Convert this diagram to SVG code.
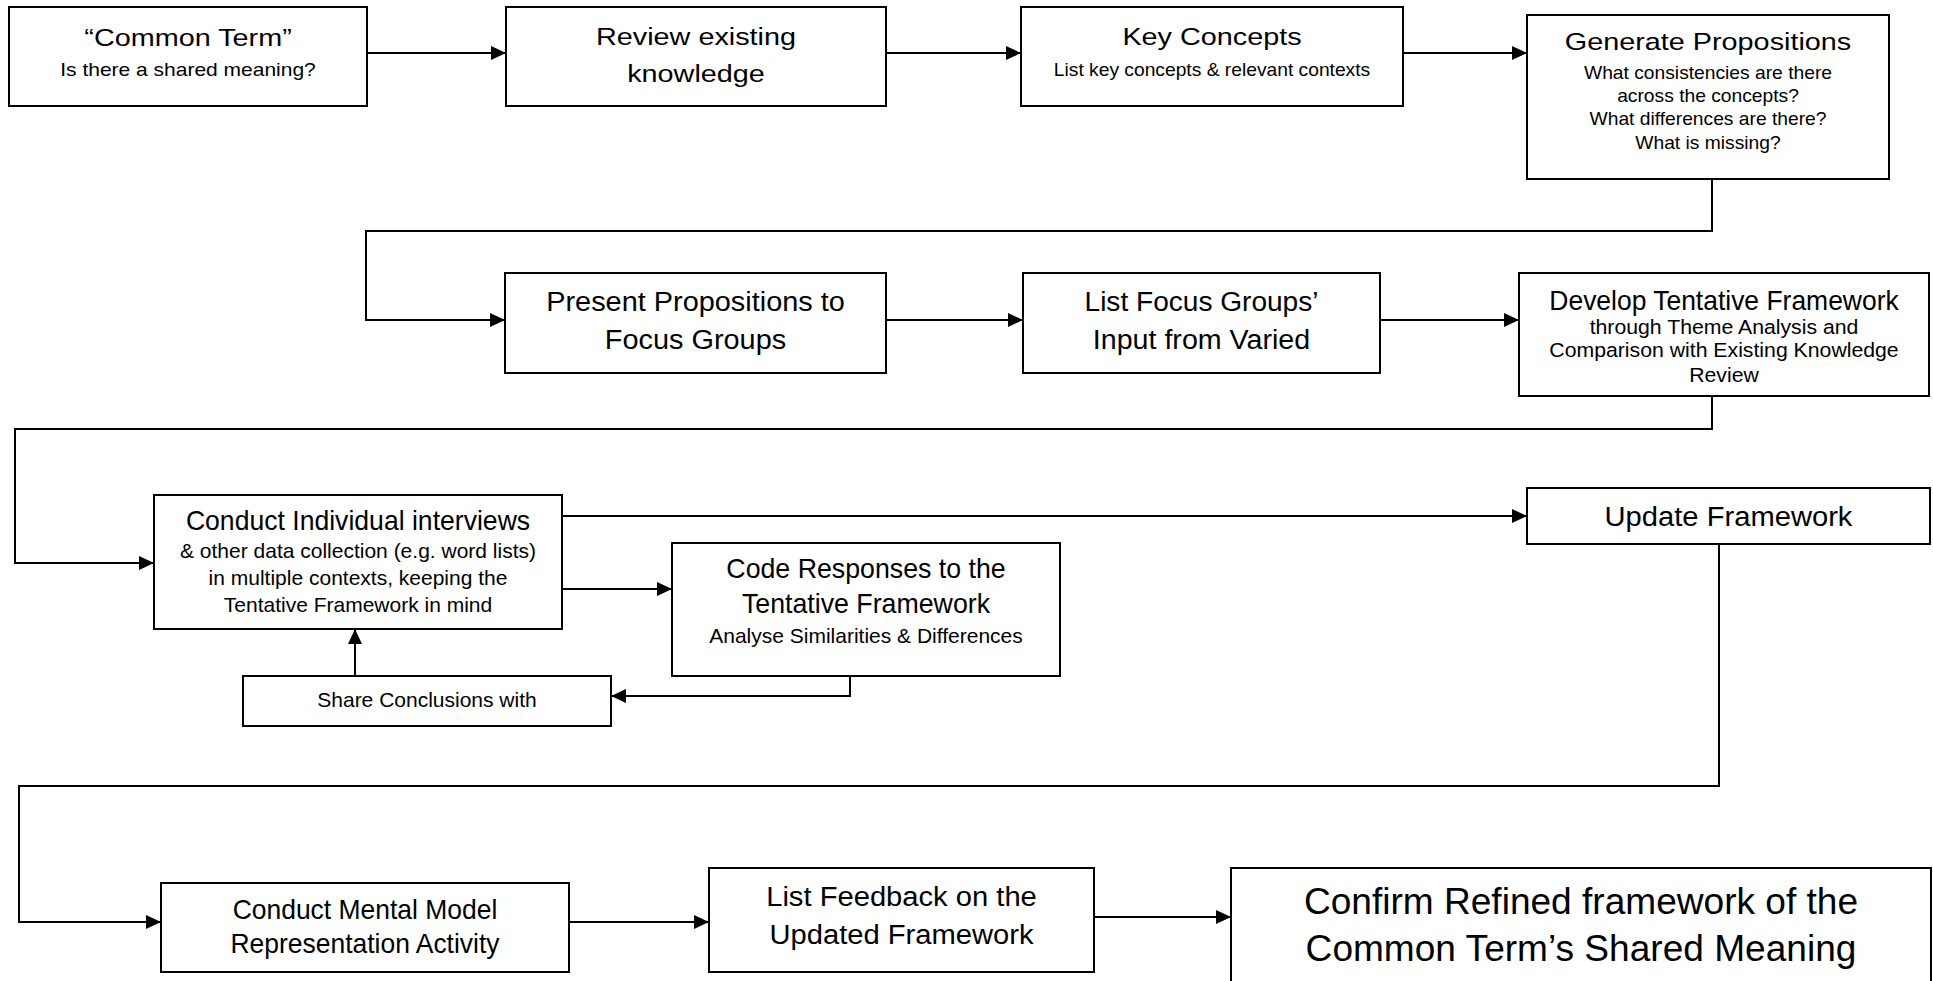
<svg xmlns="http://www.w3.org/2000/svg" width="1933" height="981" viewBox="0 0 1933 981">
  <defs>
    <marker id="arrow" markerUnits="userSpaceOnUse" markerWidth="16" markerHeight="14" refX="15" refY="7" orient="auto">
      <path d="M0,0 L15,7 L0,14 Z" fill="#000"/>
    </marker>
    <style>
      .box { fill: #fff; stroke: #000; stroke-width: 2; }
      .link { fill: none; stroke: #000; stroke-width: 2; }
      .arr { marker-end: url(#arrow); }
      text { font-family: "Liberation Sans", Arial, sans-serif; fill: #000; text-anchor: middle; }
      .h1 { font-size: 24px; }
      .s1 { font-size: 17.5px; }
      .h2 { font-size: 27px; }
      .s2 { font-size: 21px; }
      .s7 { font-size: 19.5px; }
      .big { font-size: 36px; }
    </style>
  </defs>

  <rect width="1933" height="981" fill="#fff"/>

  <!-- connectors -->
  <g id="connectors">
    <path class="link arr" d="M367,53 H506"/>
    <path class="link arr" d="M886,53 H1021"/>
    <path class="link arr" d="M1403,53 H1527"/>
    <path class="link arr" d="M1712,179 V231 H366 V320 H505"/>
    <path class="link arr" d="M886,320 H1023"/>
    <path class="link arr" d="M1380,320 H1519"/>
    <path class="link arr" d="M1712,396 V429 H15 V563 H154"/>
    <path class="link arr" d="M562,516 H1527"/>
    <path class="link arr" d="M562,589 H672"/>
    <path class="link arr" d="M850,676 V696 H611"/>
    <path class="link arr" d="M355,676 V629"/>
    <path class="link arr" d="M1719,544 V786 H19 V922 H161"/>
    <path class="link arr" d="M569,922 H709"/>
    <path class="link arr" d="M1094,917 H1231"/>
  </g>

  <!-- row 1 -->
  <g id="common-term">
    <rect class="box" x="9" y="7" width="358" height="99"/>
    <text class="h1" transform="translate(188 46) scale(1.2 1)">“Common Term”</text>
    <text class="s1" transform="translate(188 76) scale(1.2 1)">Is there a shared meaning?</text>
  </g>
  <g id="review-knowledge">
    <rect class="box" x="506" y="7" width="380" height="99"/>
    <text class="h1" transform="translate(696 45) scale(1.2 1)">Review existing</text>
    <text class="h1" transform="translate(696 82) scale(1.2 1)">knowledge</text>
  </g>
  <g id="key-concepts">
    <rect class="box" x="1021" y="7" width="382" height="99"/>
    <text class="h1" transform="translate(1212 45) scale(1.2 1)">Key Concepts</text>
    <text class="s1" transform="translate(1212 76) scale(1.1 1)">List key concepts &amp; relevant contexts</text>
  </g>
  <g id="generate-propositions">
    <rect class="box" x="1527" y="15" width="362" height="164"/>
    <text class="h1" transform="translate(1708 50) scale(1.2 1)">Generate Propositions</text>
    <text class="s1" transform="translate(1708 79) scale(1.1 1)">What consistencies are there</text>
    <text class="s1" transform="translate(1708 102) scale(1.1 1)">across the concepts?</text>
    <text class="s1" transform="translate(1708 125) scale(1.1 1)">What differences are there?</text>
    <text class="s1" transform="translate(1708 149) scale(1.1 1)">What is missing?</text>
  </g>

  <!-- row 2 -->
  <g id="present-propositions">
    <rect class="box" x="505" y="273" width="381" height="100"/>
    <text class="h2" transform="translate(695.5 311) scale(1.07 1)">Present Propositions to</text>
    <text class="h2" transform="translate(695.5 349) scale(1.07 1)">Focus Groups</text>
  </g>
  <g id="list-focus-groups">
    <rect class="box" x="1023" y="273" width="357" height="100"/>
    <text class="h2" transform="translate(1201.5 311) scale(1.04 1)">List Focus Groups’</text>
    <text class="h2" transform="translate(1201.5 349) scale(1.06 1)">Input from Varied</text>
  </g>
  <g id="develop-framework">
    <rect class="box" x="1519" y="273" width="410" height="123"/>
    <text class="h2" transform="translate(1724 310) scale(0.98 1)">Develop Tentative Framework</text>
    <text class="s7" transform="translate(1724 334) scale(1.09 1)">through Theme Analysis and</text>
    <text class="s7" transform="translate(1724 357) scale(1.09 1)">Comparison with Existing Knowledge</text>
    <text class="s7" transform="translate(1724 382) scale(1.09 1)">Review</text>
  </g>

  <!-- row 3 -->
  <g id="individual-interviews">
    <rect class="box" x="154" y="495" width="408" height="134"/>
    <text class="h2" transform="translate(358 530) scale(0.985 1)">Conduct Individual interviews</text>
    <text class="s2" x="358" y="558">&amp; other data collection (e.g. word lists)</text>
    <text class="s2" x="358" y="585">in multiple contexts, keeping the</text>
    <text class="s2" x="358" y="612">Tentative Framework in mind</text>
  </g>
  <g id="update-framework">
    <rect class="box" x="1527" y="488" width="403" height="56"/>
    <text class="h2" transform="translate(1728.5 526) scale(1.08 1)">Update Framework</text>
  </g>
  <g id="code-responses">
    <rect class="box" x="672" y="543" width="388" height="133"/>
    <text class="h2" transform="translate(866 578) scale(0.99 1)">Code Responses to the</text>
    <text class="h2" transform="translate(866 613) scale(0.99 1)">Tentative Framework</text>
    <text class="s2" x="866" y="643">Analyse Similarities &amp; Differences</text>
  </g>
  <g id="share-conclusions">
    <rect class="box" x="243" y="676" width="368" height="50"/>
    <text class="s2" x="427" y="707">Share Conclusions with</text>
  </g>

  <!-- row 4 -->
  <g id="mental-model">
    <rect class="box" x="161" y="883" width="408" height="89"/>
    <text class="h2" transform="translate(365 919) scale(0.98 1)">Conduct Mental Model</text>
    <text class="h2" transform="translate(365 953) scale(0.98 1)">Representation Activity</text>
  </g>
  <g id="list-feedback">
    <rect class="box" x="709" y="868" width="385" height="104"/>
    <text class="h2" transform="translate(901.5 906) scale(1.08 1)">List Feedback on the</text>
    <text class="h2" transform="translate(901.5 944) scale(1.08 1)">Updated Framework</text>
  </g>
  <g id="confirm-framework">
    <rect class="box" x="1231" y="868" width="700" height="130"/>
    <text class="big" transform="translate(1581 914) scale(1.03 1)">Confirm Refined framework of the</text>
    <text class="big" transform="translate(1581 961) scale(1.03 1)">Common Term’s Shared Meaning</text>
  </g>
</svg>
